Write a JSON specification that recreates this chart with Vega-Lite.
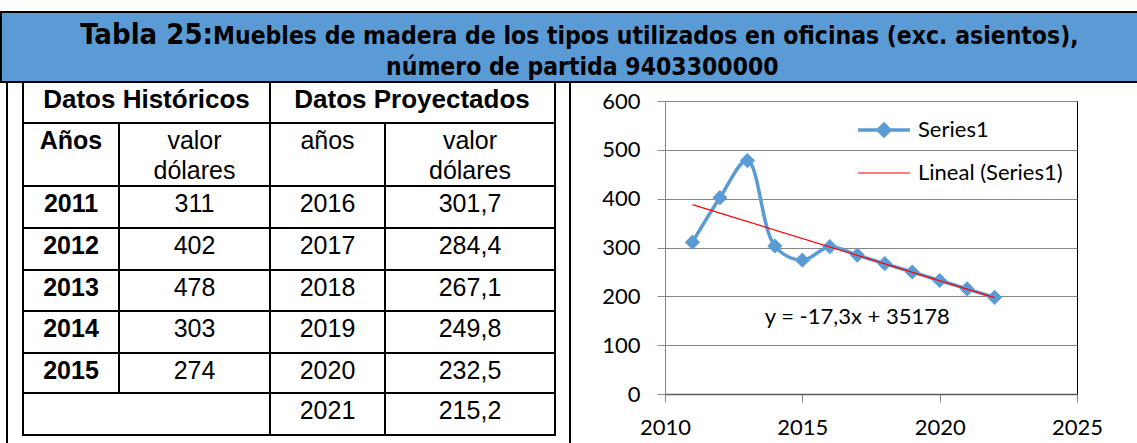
{
  "$schema": "https://vega.github.io/schema/vega-lite/v6.json",
  "background": "white",
  "padding": {"top": 11, "left": 0, "right": 0, "bottom": 0},
  "spacing": -2,
  "config": {"view": {"stroke": null}},
  "datasets": {
    "banner": [
      {"t": "Tabla 25:", "line": 1, "part": 1},
      {"t": "Muebles de madera de los tipos utilizados en oficinas (exc. asientos),", "line": 1, "part": 2},
      {"t": "número de partida  9403300000", "line": 2, "part": 3}
    ],
    "table": [
      {"r": 0, "c": 0, "span": 2, "t": "Datos Históricos"},
      {"r": 0, "c": 2, "span": 2, "t": "Datos Proyectados"},
      {"r": 1, "c": 0, "span": 1, "t": "Años"},
      {"r": 1, "c": 1, "span": 1, "t": "valor\ndólares"},
      {"r": 1, "c": 2, "span": 1, "t": "años"},
      {"r": 1, "c": 3, "span": 1, "t": "valor\ndólares"},
      {"r": 2, "c": 0, "span": 1, "t": "2011"},
      {"r": 2, "c": 1, "span": 1, "t": "311"},
      {"r": 2, "c": 2, "span": 1, "t": "2016"},
      {"r": 2, "c": 3, "span": 1, "t": "301,7"},
      {"r": 3, "c": 0, "span": 1, "t": "2012"},
      {"r": 3, "c": 1, "span": 1, "t": "402"},
      {"r": 3, "c": 2, "span": 1, "t": "2017"},
      {"r": 3, "c": 3, "span": 1, "t": "284,4"},
      {"r": 4, "c": 0, "span": 1, "t": "2013"},
      {"r": 4, "c": 1, "span": 1, "t": "478"},
      {"r": 4, "c": 2, "span": 1, "t": "2018"},
      {"r": 4, "c": 3, "span": 1, "t": "267,1"},
      {"r": 5, "c": 0, "span": 1, "t": "2014"},
      {"r": 5, "c": 1, "span": 1, "t": "303"},
      {"r": 5, "c": 2, "span": 1, "t": "2019"},
      {"r": 5, "c": 3, "span": 1, "t": "249,8"},
      {"r": 6, "c": 0, "span": 1, "t": "2015"},
      {"r": 6, "c": 1, "span": 1, "t": "274"},
      {"r": 6, "c": 2, "span": 1, "t": "2020"},
      {"r": 6, "c": 3, "span": 1, "t": "232,5"},
      {"r": 7, "c": 0, "span": 2, "t": ""},
      {"r": 7, "c": 2, "span": 1, "t": "2021"},
      {"r": 7, "c": 3, "span": 1, "t": "215,2"}
    ],
    "series": [
      {"year": 2011, "value": 311, "series": "Series1"},
      {"year": 2012, "value": 402, "series": "Series1"},
      {"year": 2013, "value": 478, "series": "Series1"},
      {"year": 2014, "value": 303, "series": "Series1"},
      {"year": 2015, "value": 274, "series": "Series1"},
      {"year": 2016, "value": 301.7, "series": "Series1"},
      {"year": 2017, "value": 284.4, "series": "Series1"},
      {"year": 2018, "value": 267.1, "series": "Series1"},
      {"year": 2019, "value": 249.8, "series": "Series1"},
      {"year": 2020, "value": 232.5, "series": "Series1"},
      {"year": 2021, "value": 215.2, "series": "Series1"},
      {"year": 2022, "value": 197.9, "series": "Series1"},
      {"year": 2011, "value": 387.7, "series": "Lineal (Series1)"},
      {"year": 2022, "value": 197.4, "series": "Lineal (Series1)"}
    ],
    "equation": [
      {"label": "y = -17,3x + 35178"}
    ]
  },
  "vconcat": [
    {
      "width": 1137,
      "height": 70,
      "view": {"fill": "#5B9BD5", "stroke": "#000000", "strokeWidth": 2},
      "data": {"name": "banner"},
      "encoding": {
        "x": {"field": "part", "type": "quantitative", "axis": null, "scale": {"domain": [1, 2, 3], "range": [212, 212, 385], "nice": false, "zero": false}},
        "y": {"field": "line", "type": "quantitative", "axis": null, "scale": {"domain": [1, 2], "range": [32, 63], "nice": false, "zero": false}},
        "text": {"field": "t"}
      },
      "layer": [
        {
          "transform": [{"filter": "datum.part === 1"}],
          "mark": {"type": "text", "align": "right", "baseline": "alphabetic", "font": "DejaVu Sans Condensed, sans-serif", "fontWeight": "bold", "fontSize": 29, "color": "#000000"}
        },
        {
          "transform": [{"filter": "datum.part !== 1"}],
          "mark": {"type": "text", "align": "left", "baseline": "alphabetic", "font": "DejaVu Sans Condensed, sans-serif", "fontWeight": "bold", "fontSize": 24.5, "color": "#000000"}
        }
      ]
    },
    {
      "spacing": 30,
      "hconcat": [
        {
          "width": 570,
          "height": 342,
          "data": {"name": "table"},
          "transform": [
            {"calculate": "datum.c + datum.span", "as": "c2"},
            {"calculate": "datum.c + datum.span / 2", "as": "cm"},
            {"calculate": "datum.r + 1", "as": "r2"}
          ],
          "resolve": {"scale": {"x": "independent"}},
          "layer": [
            {
              "mark": {"type": "rect", "fill": "transparent", "stroke": "#000000", "strokeWidth": 2},
              "encoding": {
                "x": {"field": "c", "type": "quantitative", "axis": null, "scale": {"domain": [-1, 0, 1, 2, 3, 4, 5], "range": [6, 22, 118, 269, 384, 554, 569], "nice": false, "zero": false}},
                "x2": {"field": "c2"},
                "y": {"field": "r", "type": "quantitative", "axis": null, "scale": {"domain": [0, 1, 2, 3, 4, 5, 6, 7, 8, 9], "range": [-19, 22, 85, 127, 169, 210, 252, 292, 334, 342], "nice": false, "zero": false}},
                "y2": {"field": "r2"}
              }
            },
            {
              "data": {"values": [{}]},
              "mark": {"type": "rule", "stroke": "#000000", "strokeWidth": 2},
              "encoding": {
                "x": {"datum": -1, "type": "quantitative", "axis": null, "scale": {"domain": [-1, 0, 1, 2, 3, 4, 5], "range": [6, 22, 118, 269, 384, 554, 569], "nice": false, "zero": false}},
                "y": {"datum": 0, "type": "quantitative", "axis": null, "scale": {"domain": [0, 1, 2, 3, 4, 5, 6, 7, 8, 9], "range": [-19, 22, 85, 127, 169, 210, 252, 292, 334, 342], "nice": false, "zero": false}},
                "y2": {"datum": 9}
              }
            },
            {
              "data": {"values": [{}]},
              "mark": {"type": "rule", "stroke": "#000000", "strokeWidth": 2},
              "encoding": {
                "x": {"datum": 5, "type": "quantitative", "axis": null, "scale": {"domain": [-1, 0, 1, 2, 3, 4, 5], "range": [6, 22, 118, 269, 384, 554, 569], "nice": false, "zero": false}},
                "y": {"datum": 0, "type": "quantitative", "axis": null},
                "y2": {"datum": 9}
              }
            },
            {
              "transform": [{"filter": "datum.r === 0"}],
              "mark": {"type": "text", "align": "center", "baseline": "alphabetic", "dy": 26, "font": "Liberation Sans, Arial, sans-serif", "fontWeight": "bold", "fontSize": 26, "color": "#000000"},
              "encoding": {
                "x": {"field": "c", "type": "quantitative", "axis": null, "scale": {"domain": [0, 2], "range": [145.5, 411], "nice": false, "zero": false}},
                "y": {"field": "r", "type": "quantitative", "axis": null},
                "text": {"field": "t"}
              }
            },
            {
              "transform": [{"filter": "datum.r > 0 && datum.c === 0"}],
              "mark": {"type": "text", "align": "center", "baseline": "alphabetic", "dy": 26, "font": "Liberation Sans, Arial, sans-serif", "fontWeight": "bold", "fontSize": 25, "color": "#000000"},
              "encoding": {
                "x": {"field": "cm", "type": "quantitative", "axis": null, "scale": {"domain": [-1, 0, 1, 2, 3, 4, 5], "range": [6, 22, 118, 269, 384, 554, 569], "nice": false, "zero": false}},
                "y": {"field": "r", "type": "quantitative", "axis": null},
                "text": {"field": "t"}
              }
            },
            {
              "transform": [{"filter": "datum.r > 0 && datum.c > 0"}],
              "mark": {"type": "text", "align": "center", "baseline": "alphabetic", "dy": 26, "lineBreak": "\n", "lineHeight": 30, "font": "Liberation Sans, Arial, sans-serif", "fontSize": 25, "color": "#000000"},
              "encoding": {
                "x": {"field": "cm", "type": "quantitative", "axis": null, "scale": {"domain": [-1, 0, 1, 2, 3, 4, 5], "range": [6, 22, 118, 269, 384, 554, 569], "nice": false, "zero": false}},
                "y": {"field": "r", "type": "quantitative", "axis": null},
                "text": {"field": "t"}
              }
            }
          ]
        },
        {
          "width": 412,
          "height": 293,
          "view": {"stroke": "#000000", "strokeWidth": 1},
          "layer": [
            {
              "data": {"name": "series"},
              "transform": [{"filter": "datum.series === 'Series1'"}],
              "mark": {"type": "line", "interpolate": "catmull-rom", "strokeWidth": 3.5},
              "encoding": {
                "x": {
                  "field": "year", "type": "quantitative",
                  "scale": {"domain": [2010, 2025], "nice": false, "zero": false},
                  "axis": {"title": null, "values": [2010, 2015, 2020, 2025], "format": "d", "grid": false, "domainColor": "#595959", "domainWidth": 1.5, "tickColor": "#868686", "tickSize": 8, "labelFont": "Lato", "labelFontSize": 22, "labelColor": "#000000", "labelPadding": 15, "labelFlush": false}
                },
                "y": {
                  "field": "value", "type": "quantitative",
                  "scale": {"domain": [0, 600], "nice": false},
                  "axis": {"title": null, "values": [0, 100, 200, 300, 400, 500, 600], "grid": true, "gridColor": "#868686", "gridWidth": 1, "domainColor": "#868686", "tickColor": "#868686", "tickSize": 8, "labelFont": "Lato", "labelFontSize": 22, "labelColor": "#000000", "labelPadding": 17, "labelFlush": false}
                },
                "color": {
                  "field": "series", "type": "nominal",
                  "scale": {"domain": ["Series1", "Lineal (Series1)"], "range": ["#5B9BD5", "#FF0000"]},
                  "legend": {
                    "orient": "none", "legendX": 859, "legendY": 107, "title": null,
                    "labelFont": "Lato", "labelFontSize": 22, "labelColor": "#000000",
                    "symbolSize": 676, "labelOffset": 36, "rowPadding": 19,
                    "encode": {
                      "symbols": {
                        "update": {
                          "shape": {"signal": "datum.value === 'Series1' ? 'M-1,0H3M1,-0.45L1.45,0L1,0.45L0.55,0Z' : 'M-1,0H3'"},
                          "fill": {"signal": "datum.value === 'Series1' ? '#5B9BD5' : 'transparent'"},
                          "stroke": {"signal": "datum.value === 'Series1' ? '#5B9BD5' : '#FF0000'"},
                          "strokeWidth": {"signal": "datum.value === 'Series1' ? 3.5 : 1.2"},
                          "opacity": {"value": 1}
                        }
                      }
                    }
                  }
                }
              }
            },
            {
              "data": {"name": "series"},
              "transform": [{"filter": "datum.series === 'Series1'"}],
              "mark": {"type": "point", "shape": "diamond", "filled": true, "size": 230, "opacity": 1},
              "encoding": {
                "x": {"field": "year", "type": "quantitative"},
                "y": {"field": "value", "type": "quantitative"},
                "color": {"field": "series", "type": "nominal"}
              }
            },
            {
              "data": {"name": "series"},
              "transform": [{"filter": "datum.series !== 'Series1'"}],
              "mark": {"type": "line", "strokeWidth": 1.2},
              "encoding": {
                "x": {"field": "year", "type": "quantitative"},
                "y": {"field": "value", "type": "quantitative"},
                "color": {"field": "series", "type": "nominal"}
              }
            },
            {
              "data": {"name": "equation"},
              "mark": {"type": "text", "font": "Lato", "fontSize": 22, "align": "center", "baseline": "middle", "color": "#000000"},
              "encoding": {
                "x": {"datum": 2017, "type": "quantitative"},
                "y": {"datum": 157, "type": "quantitative"},
                "text": {"field": "label", "type": "nominal"}
              }
            }
          ]
        }
      ]
    }
  ]
}
